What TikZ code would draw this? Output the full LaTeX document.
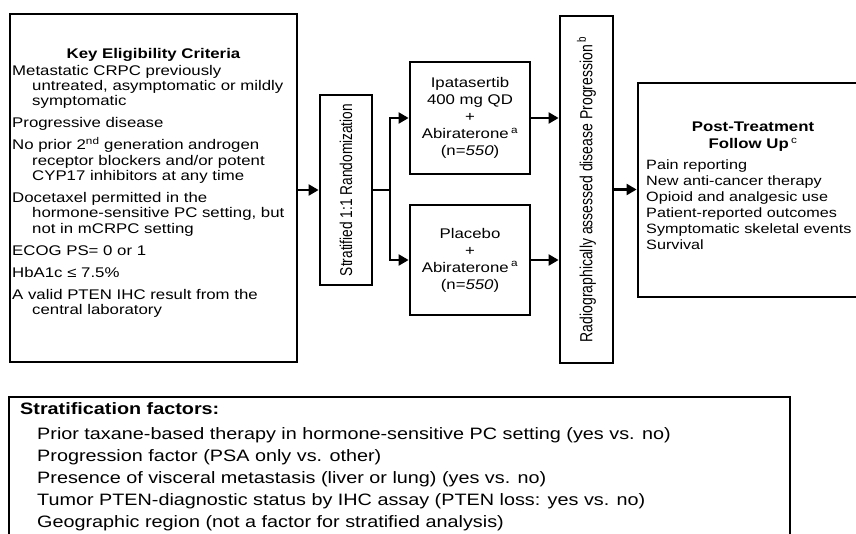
\documentclass[tikz,border=0pt]{standalone}
\usepackage{fontspec}
\usepackage{graphicx}
\setmainfont{Liberation Sans}[FakeStretch=1.2]
\newfontfamily\rotfont{Liberation Sans}
\usetikzlibrary{arrows.meta}

\tikzset{
  box/.style={draw, line width=2.8pt, inner sep=0pt, align=center},
  arr/.style={line width=2.2pt, -{Triangle[length=10pt,width=11pt]}},
  txt/.style={inner sep=0pt, align=left},
}
\newcommand{\ind}{\hspace*{20pt}}

\begin{document}
\begin{tikzpicture}[x=1pt,y=-1pt,font=\fontsize{14}{17}\selectfont]
\clip (0,0) rectangle (856,533);
\fill[white] (0,0) rectangle (856,533);

\node [box, minimum width=287pt, minimum height=348pt] (elig) at (153.5,188) {};
\node [inner sep=0pt] (eligtitle) at (153.5,55) {\textbf{Key Eligibility Criteria}};
\node [txt, anchor=north west, font=\fontsize{14}{15.3}\selectfont] (eliglist) at (12,65) {%
Metastatic CRPC previously\\
\ind untreated, asymptomatic or mildly\\
\ind symptomatic\\[6.7pt]
Progressive disease\\[6.7pt]
No prior 2\textsuperscript{nd} generation androgen\\
\ind receptor blockers and/or potent\\
\ind CYP17 inhibitors at any time\\[6.7pt]
Docetaxel permitted in the\\
\ind hormone-sensitive PC setting, but\\
\ind not in mCRPC setting\\[6.7pt]
ECOG PS= 0 or 1\\[6.7pt]
HbA1c ≤ 7.5\%\\[6.7pt]
A valid PTEN IHC result from the\\
\ind central laboratory};

\node [box, minimum width=52pt, minimum height=190pt] (rand) at (346,190)
  {\rotatebox{90}{\scalebox{1}[1.25]{\rotfont\fontsize{13.7}{16}\selectfont Stratified 1:1 Randomization}}};

\node [box, minimum width=120pt, minimum height=112pt] (ipat) at (470,118)
  {Ipatasertib\\400 mg QD\\+\\Abiraterone\,\textsuperscript{a}\\(n=\textit{550})};
\node [box, minimum width=120pt, minimum height=110pt] (plac) at (470,260)
  {Placebo\\+\\Abiraterone\,\textsuperscript{a}\\(n=\textit{550})};

\node [box, minimum width=53pt, minimum height=347pt] (radio) at (586.5,189.5)
  {\rotatebox{90}{\scalebox{1}[1.25]{\rotfont\fontsize{14}{16}\selectfont Radiographically assessed disease Progression\,\textsuperscript{b}}}};

\node [box, minimum width=244pt, minimum height=214pt] (post) at (760,190) {};
\node [inner sep=0pt, align=center] (posttitle) at (753,137) {\textbf{Post-Treatment}\\\textbf{Follow Up}\,\textsuperscript{c}};
\node [txt, anchor=north west, font=\fontsize{13.5}{16}\selectfont] (postlist) at (646,160) {%
Pain reporting\\
New anti-cancer therapy\\
Opioid and analgesic use\\
Patient-reported outcomes\\
Symptomatic skeletal events\\
Survival};

\node [box, minimum width=781pt, minimum height=146pt] (strat) at (399.5,470) {};
\node [inner sep=0pt, anchor=base west, font=\fontsize{16.5}{22}\selectfont] (strattitle) at (20,414) {\textbf{Stratification factors:}};
\node [txt, anchor=north west, font=\fontsize{16.5}{22}\selectfont] (stratlist) at (37,427) {%
Prior taxane-based therapy in hormone-sensitive PC setting (yes vs. no)\\
Progression factor (PSA only vs. other)\\
Presence of visceral metastasis (liver or lung) (yes vs. no)\\
Tumor PTEN-diagnostic status by IHC assay (PTEN loss: yes vs. no)\\
Geographic region (not a factor for stratified analysis)};

% connectors
\coordinate (split) at (390,190);
\draw [arr] (elig.east |- rand.west) -- (rand.west);
\draw [line width=2.2pt] (rand.east) -- (split);
\draw [arr] (split) |- (ipat.west);
\draw [arr] (split) |- (plac.west);
\draw [arr] (ipat.east) -- (ipat.east -| radio.west);
\draw [arr] (plac.east) -- (plac.east -| radio.west);
\draw [arr] (radio.east) -- (radio.east -| post.west);
\end{tikzpicture}
\end{document}
